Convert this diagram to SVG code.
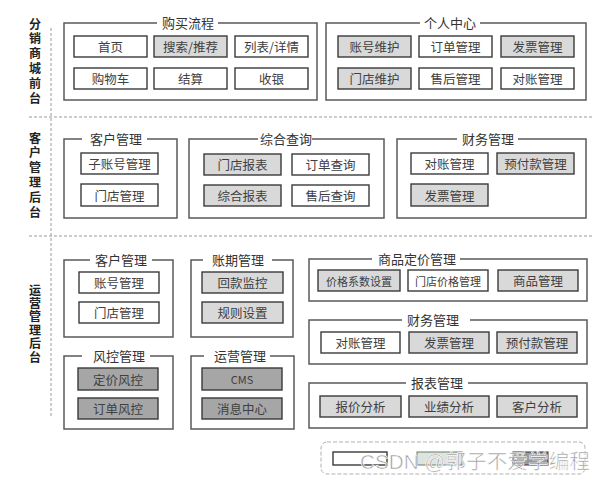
<svg xmlns="http://www.w3.org/2000/svg" width="607" height="482" viewBox="0 0 607 482">
<style>
  .grp{fill:none;stroke:#595959;stroke-width:1.5}
  .gap{fill:#fff;stroke:none}
  .b{stroke:#3a3a3a;stroke-width:1.4}
  .w{fill:#fff}
  .l{fill:#d9d9d9}
  .d{fill:#a6a6a6}
  .t{font-family:"Noto Sans CJK SC","Noto Sans",sans-serif;font-size:12.5px;fill:#404040;text-anchor:middle;dominant-baseline:central}
  .sm{font-size:11px}
  .h{font-family:"Noto Sans CJK SC","Noto Sans",sans-serif;font-size:13px;fill:#333;text-anchor:middle;dominant-baseline:central}
  .side{font-family:"Noto Sans CJK SC","Noto Sans",sans-serif;font-weight:bold;font-size:12px;fill:#222;writing-mode:vertical-rl;text-orientation:upright}
  .dash{stroke:#9a9a9a;stroke-width:1;stroke-dasharray:3 2;fill:none}
  .wm{font-family:"Liberation Sans","Noto Sans CJK SC",sans-serif;font-size:20px;fill:#8a8a8a;fill-opacity:0.85;stroke:#fff;stroke-width:0.6}
</style>

<g id="dividers">
  <line class="dash" x1="51" y1="28" x2="51" y2="416"/>
  <line class="dash" x1="29" y1="117" x2="592" y2="117"/>
  <line class="dash" x1="29" y1="236" x2="592" y2="236"/>
</g>

<g id="side-labels">
  <text class="side" x="35" y="18" letter-spacing="2.8">分销商城前台</text>
  <text class="side" x="35" y="132" letter-spacing="2.8">客户管理后台</text>
  <text class="side" x="35" y="284" letter-spacing="1.4">运营管理后台</text>
</g>

<!-- Section 1 -->
<g id="buy-flow">
  <rect class="grp" x="64" y="23" width="253" height="77"/>
  <rect class="gap" x="157" y="17" width="61" height="12"/>
  <text class="h" x="188" y="22">购买流程</text>
  <rect class="b w" x="74" y="36" width="73" height="21"/><text class="t" x="110.5" y="46.5">首页</text>
  <rect class="b l" x="154" y="36" width="73" height="21"/><text class="t" x="190.5" y="46.5">搜索/推荐</text>
  <rect class="b w" x="235" y="36" width="73" height="21"/><text class="t" x="271.5" y="46.5">列表/详情</text>
  <rect class="b w" x="74" y="68" width="73" height="21"/><text class="t" x="110.5" y="78.5">购物车</text>
  <rect class="b w" x="154" y="68" width="73" height="21"/><text class="t" x="190.5" y="78.5">结算</text>
  <rect class="b w" x="235" y="68" width="73" height="21"/><text class="t" x="271.5" y="78.5">收银</text>
</g>

<g id="personal-center">
  <rect class="grp" x="326" y="23" width="260" height="77"/>
  <rect class="gap" x="420" y="17" width="60" height="12"/>
  <text class="h" x="450" y="22">个人中心</text>
  <rect class="b l" x="338" y="36" width="73" height="21"/><text class="t" x="374.5" y="46.5">账号维护</text>
  <rect class="b w" x="419" y="36" width="73" height="21"/><text class="t" x="455.5" y="46.5">订单管理</text>
  <rect class="b l" x="501" y="36" width="73" height="21"/><text class="t" x="537.5" y="46.5">发票管理</text>
  <rect class="b l" x="338" y="68" width="73" height="21"/><text class="t" x="374.5" y="78.5">门店维护</text>
  <rect class="b w" x="419" y="68" width="73" height="21"/><text class="t" x="455.5" y="78.5">售后管理</text>
  <rect class="b w" x="501" y="68" width="73" height="21"/><text class="t" x="537.5" y="78.5">对账管理</text>
</g>

<!-- Section 2 -->
<g id="crm-customer">
  <rect class="grp" x="64" y="139" width="113" height="79"/>
  <rect class="gap" x="82" y="133" width="65" height="12"/>
  <text class="h" x="116" y="138">客户管理</text>
  <rect class="b w" x="81" y="153" width="77" height="21"/><text class="t" x="119.5" y="163.5">子账号管理</text>
  <rect class="b w" x="81" y="184" width="77" height="22"/><text class="t" x="119.5" y="195">门店管理</text>
</g>

<g id="crm-query">
  <rect class="grp" x="189" y="139" width="195" height="79"/>
  <rect class="gap" x="258" y="133" width="54" height="12"/>
  <text class="h" x="286" y="138">综合查询</text>
  <rect class="b l" x="204" y="154" width="77" height="21"/><text class="t" x="242.5" y="164.5">门店报表</text>
  <rect class="b w" x="292" y="154" width="77" height="21"/><text class="t" x="330.5" y="164.5">订单查询</text>
  <rect class="b l" x="204" y="185" width="77" height="21"/><text class="t" x="242.5" y="195.5">综合报表</text>
  <rect class="b w" x="292" y="185" width="77" height="21"/><text class="t" x="330.5" y="195.5">售后查询</text>
</g>

<g id="crm-finance">
  <rect class="grp" x="397" y="139" width="189" height="79"/>
  <rect class="gap" x="457" y="133" width="61" height="12"/>
  <text class="h" x="488" y="138">财务管理</text>
  <rect class="b w" x="411" y="153" width="77" height="21"/><text class="t" x="449.5" y="163.5">对账管理</text>
  <rect class="b l" x="497" y="153" width="77" height="21"/><text class="t" x="535.5" y="163.5">预付款管理</text>
  <rect class="b l" x="411" y="184" width="77" height="22"/><text class="t" x="449.5" y="195">发票管理</text>
</g>

<!-- Section 3 -->
<g id="ops-customer">
  <rect class="grp" x="64" y="260" width="109" height="77"/>
  <rect class="gap" x="90" y="254" width="62" height="12"/>
  <text class="h" x="121" y="259">客户管理</text>
  <rect class="b w" x="79" y="272" width="80" height="21"/><text class="t" x="119" y="282.5">账号管理</text>
  <rect class="b w" x="79" y="302" width="80" height="21"/><text class="t" x="119" y="312.5">门店管理</text>
</g>

<g id="ops-billing">
  <rect class="grp" x="191" y="260" width="102" height="77"/>
  <rect class="gap" x="203" y="254" width="69" height="12"/>
  <text class="h" x="238" y="259">账期管理</text>
  <rect class="b l" x="202" y="272" width="81" height="21"/><text class="t" x="242.5" y="282.5">回款监控</text>
  <rect class="b l" x="202" y="302" width="81" height="21"/><text class="t" x="242.5" y="312.5">规则设置</text>
</g>

<g id="ops-risk">
  <rect class="grp" x="64" y="356" width="109" height="73"/>
  <rect class="gap" x="82" y="350" width="68" height="12"/>
  <text class="h" x="119" y="355">风控管理</text>
  <rect class="b d" x="78" y="368" width="80" height="22"/><text class="t" x="118" y="379">定价风控</text>
  <rect class="b d" x="78" y="398" width="80" height="21"/><text class="t" x="118" y="408.5">订单风控</text>
</g>

<g id="ops-operation">
  <rect class="grp" x="191" y="356" width="103" height="73"/>
  <rect class="gap" x="204" y="350" width="66" height="12"/>
  <text class="h" x="240" y="355">运营管理</text>
  <rect class="b d" x="202" y="368" width="80" height="22"/><text class="t sm" x="242" y="379">CMS</text>
  <rect class="b d" x="202" y="398" width="80" height="21"/><text class="t" x="242" y="408.5">消息中心</text>
</g>

<g id="ops-pricing">
  <rect class="grp" x="309" y="259" width="278" height="42"/>
  <rect class="gap" x="372" y="253" width="88" height="12"/>
  <text class="h" x="417" y="258">商品定价管理</text>
  <rect class="b l" x="318" y="270" width="82" height="21"/><text class="t sm" x="359" y="280.5">价格系数设置</text>
  <rect class="b w" x="408" y="270" width="80" height="21"/><text class="t sm" x="448" y="280.5">门店价格管理</text>
  <rect class="b l" x="498" y="270" width="80" height="21"/><text class="t" x="538" y="280.5">商品管理</text>
</g>

<g id="ops-finance">
  <rect class="grp" x="309" y="320" width="278" height="44"/>
  <rect class="gap" x="402" y="314" width="68" height="12"/>
  <text class="h" x="433" y="319">财务管理</text>
  <rect class="b w" x="321" y="332" width="79" height="21"/><text class="t" x="360.5" y="342.5">对账管理</text>
  <rect class="b l" x="409" y="332" width="80" height="21"/><text class="t" x="449" y="342.5">发票管理</text>
  <rect class="b l" x="497" y="332" width="80" height="21"/><text class="t" x="537" y="342.5">预付款管理</text>
</g>

<g id="ops-reports">
  <rect class="grp" x="309" y="383" width="278" height="45"/>
  <rect class="gap" x="406" y="377" width="62" height="12"/>
  <text class="h" x="437" y="382">报表管理</text>
  <rect class="b l" x="320" y="396" width="81" height="21"/><text class="t" x="360.5" y="406.5">报价分析</text>
  <rect class="b l" x="409" y="396" width="80" height="21"/><text class="t" x="449" y="406.5">业绩分析</text>
  <rect class="b l" x="497" y="396" width="80" height="21"/><text class="t" x="537" y="406.5">客户分析</text>
</g>

<g id="legend">
  <rect x="321" y="442" width="264" height="32" rx="6" fill="none" stroke="#b0b0b0" stroke-width="1" stroke-dasharray="4 2"/>
  <rect class="b w" x="333" y="452" width="54" height="13"/>
  <rect x="417" y="452" width="45" height="13" fill="#dde3dd" stroke="#6a7a6a" stroke-width="1"/>
  <rect x="513" y="452" width="35" height="13" fill="#999" stroke="#333" stroke-width="1"/>
</g>

<text class="wm" x="360" y="469" textLength="230" lengthAdjust="spacingAndGlyphs">CSDN @郭子不爱学编程</text>
</svg>
